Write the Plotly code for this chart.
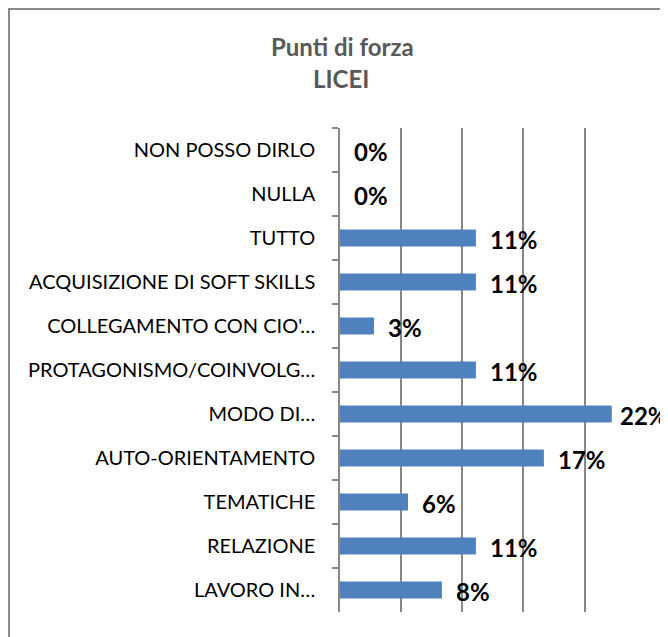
import plotly.graph_objects as go

# Data (top to bottom as displayed)
categories = [
    "NON POSSO DIRLO",
    "NULLA",
    "TUTTO",
    "ACQUISIZIONE DI SOFT SKILLS",
    "COLLEGAMENTO CON CIO'…",
    "PROTAGONISMO/COINVOLG…",
    "MODO DI…",
    "AUTO-ORIENTAMENTO",
    "TEMATICHE",
    "RELAZIONE",
    "LAVORO IN…",
]
values = [0.0, 0.0, 11.11, 11.11, 2.78, 11.11, 22.22, 16.67, 5.56, 11.11, 8.33]
labels = ["0%", "0%", "11%", "11%", "3%", "11%", "22%", "17%", "6%", "11%", "8%"]
title_line1 = "Punti di forza"
title_line2 = "LICEI"

OFF = 8  # page body margin
W, H = 668 - OFF, 637 - OFF
L, T = 340 - OFF, 128 - OFF
PR, PB = 646 - OFF, 612 - OFF
R, B = W - PR, H - PB
plot_w = PR - L
plot_h = PB - T

FONT = "Lato"
GRID = "#878787"


def px_x(p):
    return (p - OFF - L) / plot_w


def px_y(p):
    return (PB - (p - OFF)) / plot_h


fig = go.Figure()
fig.add_trace(go.Bar(
    y=categories,
    x=values,
    orientation="h",
    marker=dict(color="#4F81BD", line=dict(width=0)),
    width=0.39,
    hoverinfo="skip",
))

annotations = []
vmax = max(values)
for c, v, t in zip(categories, values, labels):
    annotations.append(dict(
        x=v, y=c, xref="x", yref="y", text="<b>%s</b>" % t,
        showarrow=False, xanchor="left", yanchor="middle",
        xshift=(6 if v == vmax else 12), yshift=-1,
        font=dict(family=FONT, size=24, color="#000000"),
    ))

annotations.append(dict(
    x=px_x(342), y=px_y(47), xref="paper", yref="paper",
    text="<b>%s</b>" % title_line1, showarrow=False, xanchor="center", yanchor="middle",
    font=dict(family=FONT, size=24, color="#595959"),
))
annotations.append(dict(
    x=px_x(341), y=px_y(78), xref="paper", yref="paper",
    text="<b>%s</b>" % title_line2, showarrow=False, xanchor="center", yanchor="middle",
    font=dict(family=FONT, size=24, color="#595959"),
))

# outer chart border (extends past right and bottom edges of the image)
shapes = [dict(
    type="rect", xref="paper", yref="paper",
    x0=px_x(9), x1=px_x(720),
    y0=px_y(700), y1=px_y(9),
    line=dict(color="#8a8a8a", width=2), fillcolor="rgba(0,0,0,0)", layer="below",
)]

fig.update_layout(
    width=W, height=H,
    margin=dict(l=L, r=R, t=T, b=B, pad=0),
    paper_bgcolor="white", plot_bgcolor="white",
    showlegend=False,
    annotations=annotations,
    shapes=shapes,
    xaxis=dict(
        range=[0, 25.02], dtick=5, tick0=0,
        showgrid=True, gridcolor=GRID, gridwidth=1.5,
        showticklabels=False, zeroline=False, showline=False, ticks="",
        fixedrange=True,
    ),
    yaxis=dict(
        autorange="reversed",
        showline=True, linecolor=GRID, linewidth=1.5,
        ticks="outside", ticklen=6, tickcolor=GRID, tickwidth=1.5,
        tickson="boundaries",
        showgrid=False,
        ticklabelstandoff=19,
        tickfont=dict(family=FONT, size=20, color="#000000"),
        fixedrange=True,
    ),
    font=dict(family=FONT),
)

fig.write_html("out.html")
